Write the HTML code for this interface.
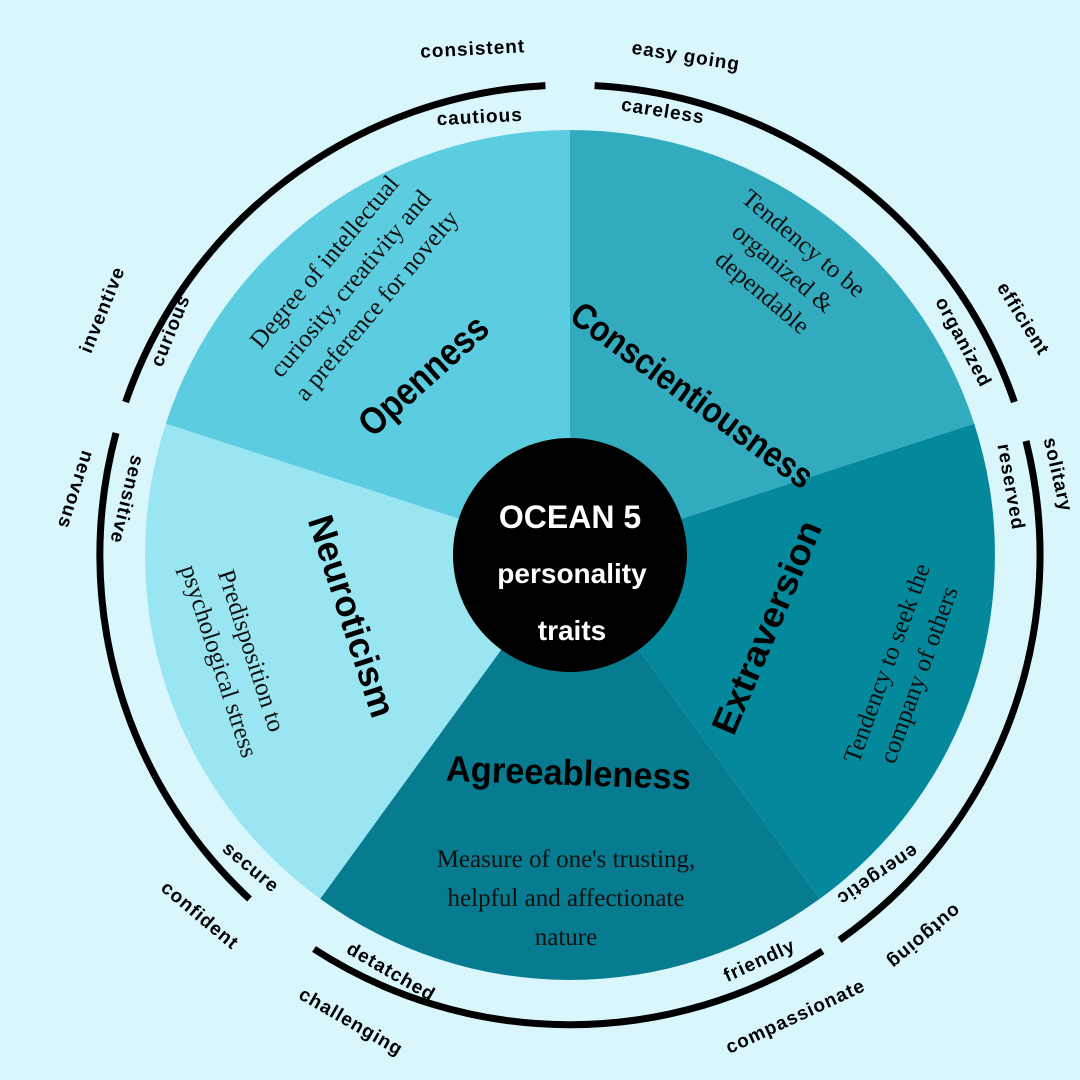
<!DOCTYPE html>
<html><head><style>
html,body{margin:0;padding:0;background:#d8f6fc;}
svg{display:block}
.h{font-family:"Liberation Sans",sans-serif;font-weight:bold;fill:#000}
.w{font-family:"Liberation Sans",sans-serif;font-weight:bold;font-size:19px;fill:#000;letter-spacing:1px}
.d{font-family:"Liberation Serif",serif;font-size:25px;fill:#111}
</style></head><body>
<svg width="1080" height="1080" viewBox="0 0 1080 1080" xmlns="http://www.w3.org/2000/svg">
<rect width="1080" height="1080" fill="#d8f6fc"/>
<path d="M570,555 L165.8,423.7 A425,425 0 0 1 570,130 Z" fill="#5ccde0"/>
<path d="M570,555 L570,130 A425,425 0 0 1 974.2,423.7 Z" fill="#33abbf"/>
<path d="M570,555 L974.2,423.7 A425,425 0 0 1 819.8,898.8 Z" fill="#04889c"/>
<path d="M570,555 L819.8,898.8 A425,425 0 0 1 320.2,898.8 Z" fill="#077b8f"/>
<path d="M570,555 L320.2,898.8 A425,425 0 0 1 165.8,423.7 Z" fill="#9ae5f2"/>
<g fill="none" stroke="#000" stroke-width="7">
<path d="M125.6,402 A470,470 0 0 1 545.4,85.6"/>
<path d="M594.6,85.6 A470,470 0 0 1 1014.4,402"/>
<path d="M1026,441 A470,470 0 0 1 839.6,940"/>
<path d="M822.5,951 A470,470 0 0 1 314,949"/>
<path d="M249.5,899 A470,470 0 0 1 116,433"/>
</g>
<circle cx="570" cy="555" r="117" fill="#000"/>
<text class="h" x="570" y="528" font-size="32" text-anchor="middle" style="fill:#fff">OCEAN 5</text>
<text class="h" x="572" y="583" font-size="28" text-anchor="middle" style="fill:#fff">personality</text>
<text class="h" x="572" y="640" font-size="28" text-anchor="middle" style="fill:#fff">traits</text>
<text class="h" font-size="38" text-anchor="middle" textLength="160" lengthAdjust="spacingAndGlyphs" transform="translate(432,385) rotate(-42)">Openness</text>
<text class="h" font-size="36" text-anchor="middle" textLength="290" lengthAdjust="spacingAndGlyphs" transform="translate(685,405) rotate(36)">Conscientiousness</text>
<text class="h" font-size="36" text-anchor="middle" textLength="228" lengthAdjust="spacingAndGlyphs" transform="translate(778,632) rotate(-67)">Extraversion</text>
<text class="h" font-size="36" text-anchor="middle" textLength="245" lengthAdjust="spacingAndGlyphs" transform="translate(568,785) rotate(2)">Agreeableness</text>
<text class="h" font-size="36" text-anchor="middle" textLength="210" lengthAdjust="spacingAndGlyphs" transform="translate(340,620) rotate(72)">Neuroticism</text>
<g class="d" text-anchor="middle" transform="translate(352,285) rotate(-50)">
<text y="-28">Degree of intellectual</text><text y="6">curiosity, creativity and</text><text y="40">a preference for novelty</text></g>
<g class="d" text-anchor="middle" transform="translate(783,268) rotate(40)">
<text y="-24">Tendency to be</text><text y="8">organized &amp;</text><text y="40">dependable</text></g>
<g class="d" text-anchor="middle" transform="translate(900,668) rotate(-70)">
<text y="-6">Tendency to seek the</text><text y="28">company of others</text></g>
<g class="d" text-anchor="middle">
<text x="566" y="867">Measure of one's trusting,</text><text x="566" y="906">helpful and affectionate</text><text x="566" y="945">nature</text></g>
<g class="d" text-anchor="middle" transform="translate(238,655) rotate(72)">
<text y="-6">Predisposition to</text><text y="28">psychological stress</text></g>
<g class="w" text-anchor="middle">
<text transform="translate(473,55) rotate(-3)">consistent</text>
<text transform="translate(480,123) rotate(-3)">cautious</text>
<text transform="translate(685,62) rotate(9)">easy going</text>
<text transform="translate(662,117) rotate(9)">careless</text>
<text transform="translate(1018,322) rotate(58)">efficient</text>
<text transform="translate(958,345) rotate(62)">organized</text>
<text transform="translate(1052,476) rotate(77)">solitary</text>
<text transform="translate(1005,488) rotate(80)">reserved</text>
<text transform="translate(920,932) rotate(140)">outgoing</text>
<text transform="translate(874,870) rotate(146)">energetic</text>
<text transform="translate(798,1022) rotate(-25)">compassionate</text>
<text transform="translate(762,966) rotate(-25)">friendly</text>
<text transform="translate(348,1027) rotate(30)">challenging</text>
<text transform="translate(388,977) rotate(30)">detatched</text>
<text transform="translate(196,920) rotate(40)">confident</text>
<text transform="translate(247,872) rotate(40)">secure</text>
<text transform="translate(70,488) rotate(108)">nervous</text>
<text transform="translate(121,498) rotate(104)">sensitive</text>
<text transform="translate(108,312) rotate(-68)">inventive</text>
<text transform="translate(176,333) rotate(-68)">curious</text>
</g>
</svg>
</body></html>
